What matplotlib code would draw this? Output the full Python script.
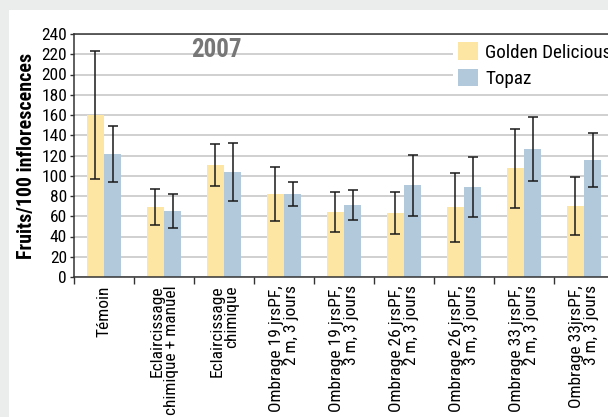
import matplotlib
matplotlib.use("Agg")
import matplotlib.pyplot as plt
import numpy as np
from matplotlib.patches import Rectangle

plt.rcParams['font.family'] = ['Roboto Condensed', 'Open Sans', 'DejaVu Sans']
plt.rcParams['font.stretch'] = 'condensed'

categories = [
    "Témoin",
    "Eclaircissage\nchimique + manuel",
    "Eclaircissage\nchimique",
    "Ombrage 19 jrsPF,\n2 m, 3 jours",
    "Ombrage 19 jrsPF,\n3 m, 3 jours",
    "Ombrage 26 jrsPF,\n2 m, 3 jours",
    "Ombrage 26 jrsPF,\n3 m, 3 jours",
    "Ombrage 33 jrsPF,\n2 m, 3 jours",
    "Ombrage 33jrsPF,\n3 m, 3 jours",
]
golden = [160, 69, 110.5, 82, 64, 63, 69, 107.5, 70]
golden_err = [63.5, 17.5, 21, 27, 19.5, 20.5, 34, 39, 28.5]
topaz = [121.5, 65, 104, 82, 71, 90.5, 89, 126.5, 115.5]
topaz_err = [28, 16.5, 28.5, 12, 15, 30, 29.5, 32, 27]
yticks = list(range(0, 241, 20))

W, H = 608, 417
fig = plt.figure(figsize=(W / 100, H / 100), dpi=100)
fig.patch.set_facecolor('#ebedec')
fig.patches.append(Rectangle((9 / W, 0), 1, (H - 10) / H, transform=fig.transFigure,
                             facecolor='white', edgecolor='none', zorder=-10))

ax = fig.add_axes([74 / W, (H - 277) / H, 540 / W, 243 / H])
ax.set_facecolor('white')

x = np.arange(len(categories))
w = 0.29
yellow = '#fde6a3'
blue = '#b2c9dc'
ax.bar(x - w / 2, golden, w, color=yellow, label='Golden Delicious', zorder=2)
ax.bar(x + w / 2, topaz, w, color=blue, label='Topaz', zorder=2)
ek = dict(fmt='none', ecolor='#1a1a1a', elinewidth=1.1, capsize=3.5, capthick=1.1, zorder=3)
ax.errorbar(x - w / 2, golden, yerr=golden_err, **ek)
ax.errorbar(x + w / 2, topaz, yerr=topaz_err, **ek)

ax.set_xlim(-0.5, len(categories) - 0.5)
ax.set_ylim(0, 240)
ax.set_yticks(yticks)
ax.yaxis.grid(True, color='#c8c8c8', linewidth=1.2)
ax.set_axisbelow(True)

ax.set_xticks(x)
ax.set_xticklabels(categories, rotation=90, ha='center', va='top',
                   multialignment='right', fontsize=12.5, linespacing=0.95)
ax.set_xticks(np.arange(len(categories) + 1) - 0.5, minor=True)
ax.tick_params(axis='x', which='major', length=0, pad=6)
ax.tick_params(axis='x', which='minor', length=5, width=1, color='#333333')
ax.tick_params(axis='y', length=3, width=1, labelsize=12.5, pad=2, color='#333333')

for s in ax.spines.values():
    s.set_color('#333333')
    s.set_linewidth(1.1)

ax.set_ylabel('Fruits/100 inflorescences', fontsize=14.3, fontweight='bold', labelpad=4)
ax.text((216 - 74) / 540, (277 - 50) / 243, '2007', transform=ax.transAxes,
        ha='center', va='center', fontsize=18, fontweight='bold', color='#777777')

leg = ax.legend(loc='upper left', bbox_to_anchor=(453 / W, (H - 37) / H),
                bbox_transform=fig.transFigure, frameon=True, fancybox=False,
                framealpha=1, edgecolor='none', facecolor='white', fontsize=13.8,
                handlelength=1.05, handleheight=1.05, labelspacing=0.35,
                handletextpad=0.35, borderpad=0.28, borderaxespad=0)
leg.set_zorder(5)

fig.savefig('out.png', dpi=100, facecolor=fig.get_facecolor())
